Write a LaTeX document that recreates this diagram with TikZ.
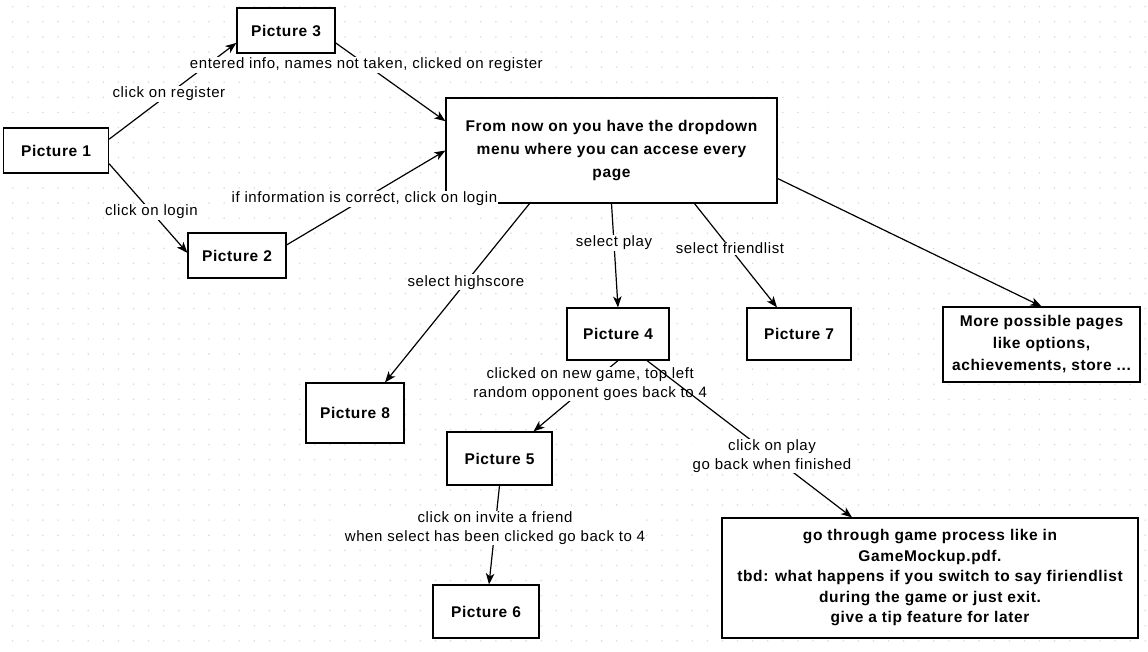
\documentclass[tikz,border=0pt]{standalone}
\usepackage{fontspec}
\setmainfont{Liberation Sans}[LetterSpace=4]
\usetikzlibrary{arrows.meta}

\begin{document}
\begin{tikzpicture}[x=1pt, y=-1pt,
  >={Stealth[length=11pt, width=8.5pt, inset=3pt]},
  every node/.style = {align=center, inner sep=2pt},
  box/.style = {shape=rectangle, draw, fill=white, line width=1.2pt,
    font=\fontsize{15.5}{23}\selectfont\bfseries},
  lbl/.style = {fill=white, inner sep=1pt,
    font=\fontsize{15}{18.5}\selectfont},
  link/.style = {->, line width=1.2pt}]
  \useasboundingbox (0,0) rectangle (1148,652);
  \fill[white] (0,0) rectangle (1148,652);
  \foreach \i in {0,...,75}
    \foreach \j in {0,...,42}
      \fill[black!16] (12.7+15.1*\i, 6.7+15.1*\j) circle (0.8);

  \node[box, minimum width=105, minimum height=45] (pic1) at (56,150.5) {Picture 1};
  \node[box, minimum width=98, minimum height=45] (pic3) at (286,30.5) {Picture 3};
  \node[box, minimum width=98, minimum height=45] (pic2) at (237,255.5) {Picture 2};
  \node[box, minimum width=331, minimum height=105] (menu) at (611.5,150.5)
    {From now on you have the dropdown\\menu where you can accese every\\page};
  \node[box, minimum width=102, minimum height=52] (pic4) at (618,334) {Picture 4};
  \node[box, minimum width=104, minimum height=52] (pic7) at (799,334) {Picture 7};
  \node[box, minimum width=98, minimum height=60] (pic8) at (355,413) {Picture 8};
  \node[box, minimum width=197, minimum height=75,
    font=\fontsize{15.5}{22}\selectfont\bfseries] (more) at (1041.5,344.5)
    {More possible pages\\like options,\\achievements, store ...};
  \node[box, minimum width=105, minimum height=53] (pic5) at (499.5,458.5) {Picture 5};
  \node[box, minimum width=106, minimum height=53] (pic6) at (486,611.5) {Picture 6};
  \node[box, minimum width=416, minimum height=120,
    font=\fontsize{15.5}{20.5}\selectfont\bfseries] (game) at (930,578)
    {go through game process like in\\GameMockup.pdf.\\tbd: what happens if you switch to say firiendlist\\during the game or just exit.\\give a tip feature for later};

  \draw[link] (pic1.12) -- node[lbl, pos=0.47] {click on register} (pic3.194);
  \draw[link] (pic1.-14) -- node[lbl, pos=0.54] {click on login} (pic2.177);
  \draw[link] (pic3.-14) -- node[lbl, pos=0.28] {entered info, names not taken, clicked on register} (menu.170.6);
  \draw[link] (pic2.12) -- node[lbl, pos=0.49] {if information is correct, click on login} (menu.west);
  \draw[link] ([xshift=-82pt]menu.south) -- node[lbl, pos=0.44] {select highscore} ([xshift=30pt]pic8.north);
  \draw[link] (menu.south) -- node[lbl, pos=0.38] {select play} (pic4.north);
  \draw[link] ([xshift=83pt]menu.south) -- node[lbl, pos=0.43] {select friendlist} ([xshift=-22pt]pic7.north);
  \draw[link] ([yshift=-28pt]menu.east) -- (more.north);
  \draw[link] (pic4.south) -- node[lbl, pos=0.33] {clicked on new game, top left\\random opponent goes back to 4} ([xshift=34pt]pic5.north);
  \draw[link] ([xshift=29pt]pic4.south) -- node[lbl, pos=0.61] {click on play\\go back when finished} ([xshift=-78pt]game.north);
  \draw[link] (pic5.south) -- node[lbl, pos=0.43] {click on invite a friend\\when select has been clicked go back to 4} ([xshift=3pt]pic6.north);
\end{tikzpicture}
\end{document}
